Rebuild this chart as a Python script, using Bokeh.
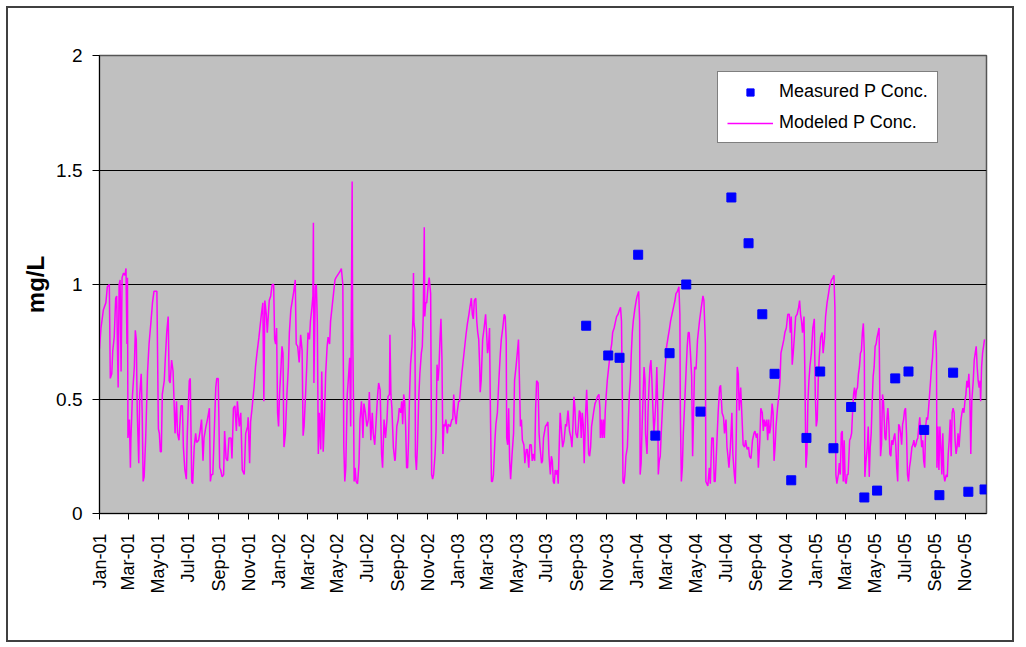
import pandas as pd
from math import pi
from bokeh.plotting import figure
from bokeh.models import (ColumnDataSource, Range1d, FixedTicker, DatetimeTickFormatter,
                          NumeralTickFormatter, Legend, LegendItem)
from bokeh.embed import file_html
from bokeh.resources import INLINE

# ---------------- data ----------------
series_start = "2001-01-01"
axis_end = "2005-12-14"

tick_labels = ["Jan-01", "Mar-01", "May-01", "Jul-01", "Sep-01", "Nov-01",
               "Jan-02", "Mar-02", "May-02", "Jul-02", "Sep-02", "Nov-02",
               "Jan-03", "Mar-03", "May-03", "Jul-03", "Sep-03", "Nov-03",
               "Jan-04", "Mar-04", "May-04", "Jul-04", "Sep-04", "Nov-04",
               "Jan-05", "Mar-05", "May-05", "Jul-05", "Sep-05", "Nov-05"]
y_ticks = [0, 0.5, 1, 1.5, 2]

measured_dates = ["2003-09-20", "2003-11-04", "2003-11-27", "2004-01-04", "2004-02-08",
                  "2004-03-08", "2004-04-11", "2004-05-10", "2004-07-12", "2004-08-16",
                  "2004-09-13", "2004-10-08", "2004-11-11", "2004-12-12", "2005-01-09",
                  "2005-02-05", "2005-03-13", "2005-04-09", "2005-05-05", "2005-06-11",
                  "2005-07-08", "2005-08-09", "2005-09-09", "2005-10-07", "2005-11-07",
                  "2005-12-10"]
measured_conc = [0.82, 0.69, 0.68, 1.13, 0.34,
                 0.70, 1.00, 0.445, 1.38, 1.18,
                 0.87, 0.61, 0.145, 0.33, 0.62,
                 0.285, 0.465, 0.07, 0.10, 0.59,
                 0.62, 0.365, 0.08, 0.615, 0.095,
                 0.105]

# modeled series: day number counted from series_start, and concentration (mg/L)
model_day = [
    0, 3, 8, 13, 16, 20, 22, 25, 27, 30,
    33, 35, 38, 40, 42, 44, 46, 49, 52, 54,
    56, 57, 58, 61, 63, 64, 67, 71, 73, 75,
    77, 80, 82, 85, 87, 89, 91, 94, 98, 101,
    105, 108, 111, 117, 120, 122, 124, 126, 128, 132,
    134, 137, 140, 142, 144, 147, 150, 154, 157, 159,
    162, 166, 169, 171, 174, 177, 179, 183, 185, 188,
    190, 193, 196, 198, 202, 205, 208, 211, 213, 217,
    220, 224, 226, 228, 231, 234, 237, 239, 242, 245,
    247, 250, 253, 255, 258, 261, 264, 268, 270, 273,
    276, 279, 281, 285, 288, 291, 295, 298, 302,
    303, 306, 308, 311, 315, 318, 321, 325, 328, 330,
    333, 335, 337, 340, 342, 344, 346, 349, 352, 355,
    357, 359, 361, 363, 365, 367, 370, 372, 374, 376,
    379, 382, 385, 387, 390, 393, 396, 399, 401, 404,
    407, 410, 413, 415, 417, 420, 423, 425, 428, 430,
    433, 435, 436, 437, 440, 442, 444, 446, 448, 451,
    453, 456, 459, 461, 464, 466, 469, 471, 474, 477,
    480, 482, 485, 488, 491, 493, 496, 498, 500, 502,
    505, 507, 510, 512, 513, 515, 516, 518, 519, 521,
    523, 526, 529, 531, 534, 537, 539, 542, 545, 548,
    550, 553, 556, 558, 561, 564, 567, 569, 572, 575,
    577, 580, 583, 586, 588, 591, 592, 594, 596, 599,
    602,
    603, 606, 609, 611, 614, 616, 618, 620, 622, 624,
    626, 628, 630, 632, 634, 637, 639, 640, 641, 643,
    644, 646, 648, 651, 653, 656, 658, 660, 662, 663,
    665, 667, 670, 672, 675, 676, 677, 679, 681, 684,
    686, 688, 690, 692, 694, 696, 698, 700, 702, 704,
    706, 709, 711, 715, 718, 720, 722, 724, 727, 729,
    732, 734, 736, 739, 742, 745, 747, 750, 753, 755,
    758, 760, 762, 764, 767, 769, 771, 773, 775, 776,
    778, 781, 784, 787, 789, 791, 793, 795, 797, 799,
    801, 803, 806, 808, 811, 814, 817, 819, 822, 825,
    827, 829, 830, 832, 834, 836, 838, 841, 844, 846,
    849, 852, 854, 856, 858, 860, 862, 865, 867, 870,
    872, 875, 877, 880, 882, 884, 887, 889, 891, 894,
    896, 898, 901, 903,
    905, 909, 912, 914, 916, 919, 921, 923, 925, 927,
    929, 931, 933, 935, 937, 939, 942, 944, 947, 950,
    952, 955, 958, 961, 963, 965, 967, 969, 971, 974,
    976, 978, 980, 982, 984, 986, 988, 991, 993, 995,
    997, 999, 1001, 1003, 1005, 1007, 1010, 1012, 1015, 1018,
    1020, 1021, 1023, 1025, 1027, 1029, 1031, 1033, 1035, 1038,
    1041, 1044, 1046, 1049, 1052, 1054, 1057, 1060, 1062, 1064,
    1066, 1067, 1069, 1071, 1073, 1076, 1078, 1080, 1082, 1084,
    1086, 1088, 1091, 1094, 1096, 1099, 1101, 1102, 1104, 1106,
    1108, 1110, 1112, 1113, 1116, 1118, 1120, 1122, 1124, 1126,
    1128, 1130, 1132, 1134, 1136, 1138, 1139, 1141, 1143, 1145,
    1148, 1151, 1154, 1156, 1159, 1162, 1164, 1167, 1170, 1173,
    1175, 1178, 1181, 1183, 1184, 1186, 1188, 1190, 1193, 1196,
    1198, 1200, 1202,
    1204, 1207, 1209, 1213, 1216, 1219, 1223, 1226, 1230, 1232,
    1235, 1236, 1240, 1243, 1245, 1248, 1251, 1253, 1255, 1258,
    1261, 1264, 1266, 1269, 1272, 1274, 1277, 1279, 1281, 1283,
    1286, 1289, 1291, 1294, 1296, 1298, 1300, 1302, 1304, 1307,
    1309, 1312, 1315, 1317, 1320, 1323, 1325, 1328, 1331, 1334,
    1336, 1339, 1341, 1343, 1346, 1348, 1351, 1353, 1355, 1357,
    1360, 1362, 1364, 1366, 1368, 1371, 1373, 1375, 1377, 1379,
    1382, 1385, 1387, 1389, 1392, 1395, 1397, 1400, 1403, 1406,
    1408, 1410, 1412, 1414, 1416, 1419, 1422, 1425, 1427, 1429,
    1431, 1433, 1436, 1438, 1440, 1442, 1444, 1446, 1448, 1451,
    1454, 1457, 1459, 1461, 1463, 1465, 1467, 1470, 1473, 1475,
    1478, 1480, 1483, 1486, 1488, 1492, 1495, 1497, 1499, 1501,
    1503, 1506, 1508,
    1510, 1512, 1514, 1516, 1518, 1520, 1522, 1524, 1526, 1529,
    1531, 1533, 1535, 1537, 1539, 1541, 1543, 1545, 1547, 1549,
    1551, 1553, 1555, 1557, 1559, 1560, 1562, 1565, 1567, 1569,
    1571, 1573, 1575, 1577, 1579, 1581, 1583, 1585, 1587, 1589,
    1591, 1592, 1594, 1596, 1598, 1601, 1603, 1605, 1607, 1609,
    1611, 1613, 1615, 1617, 1619, 1621, 1623, 1625, 1627, 1629,
    1631, 1633, 1635, 1637, 1639, 1641, 1643, 1645, 1647, 1649,
    1651, 1653, 1656, 1658, 1660, 1662, 1664, 1666, 1668, 1670,
    1672, 1674, 1676, 1678, 1680, 1682, 1684, 1686, 1688, 1690,
    1692, 1694, 1696, 1698, 1700, 1702, 1704, 1706, 1707, 1709,
    1711, 1713, 1715, 1717, 1719, 1721, 1723, 1726, 1728, 1730,
    1732, 1734, 1736, 1738, 1740, 1742, 1744, 1746, 1748, 1750,
    1752, 1754, 1756, 1758, 1760, 1762, 1764, 1766, 1768, 1770,
    1772, 1774, 1776, 1778, 1781, 1783, 1785, 1787, 1789, 1791,
    1793, 1795, 1796, 1798, 1800, 1802, 1804,
]
model_conc = [
    0.72, 0.81, 0.89, 0.92, 0.99, 1.00, 0.59, 0.61, 0.71, 0.77,
    0.94, 0.95, 0.55, 1.00, 1.02, 0.62, 1.03, 1.05, 1.04, 1.07,
    0.74, 1.03, 0.33, 0.41, 0.20, 0.32, 0.51, 0.64, 0.80, 0.76,
    0.44, 0.22, 0.52, 0.61, 0.44, 0.14, 0.16, 0.32, 0.62, 0.74,
    0.84, 0.92, 0.97, 0.97, 0.37, 0.35, 0.27, 0.27, 0.52, 0.58,
    0.67, 0.79, 0.86, 0.58, 0.57, 0.67, 0.62, 0.35, 0.49, 0.35,
    0.32, 0.47, 0.47, 0.29, 0.19, 0.15, 0.35, 0.58, 0.59, 0.14,
    0.13, 0.29, 0.35, 0.31, 0.32, 0.36, 0.41, 0.23, 0.33, 0.38,
    0.41, 0.46, 0.14, 0.17, 0.17, 0.36, 0.55, 0.59, 0.59, 0.20,
    0.19, 0.16, 0.17, 0.36, 0.24, 0.23, 0.33, 0.33, 0.24, 0.46,
    0.47, 0.36, 0.49, 0.38, 0.44, 0.19, 0.17, 0.35, 0.38,
    0.42, 0.22, 0.40, 0.46, 0.55, 0.64, 0.70, 0.77, 0.83, 0.87,
    0.92, 0.49, 0.93, 0.87, 0.79, 0.86, 0.93, 0.95, 1.00, 1.00,
    0.76, 0.74, 0.81, 0.44, 0.38, 0.52, 0.64, 0.73, 0.70, 0.29,
    0.35, 0.52, 0.64, 0.79, 0.89, 0.93, 0.97, 1.02, 0.74, 0.73,
    0.66, 0.78, 0.71, 0.34, 0.38, 0.52, 0.67, 0.79, 0.76, 0.84,
    0.90, 0.95, 1.27, 0.57, 0.99, 1.00, 0.84, 0.26, 0.44, 0.28,
    0.62, 0.27, 0.45, 0.61, 0.73, 0.77, 0.74, 0.84, 0.90, 0.96,
    1.02, 1.03, 1.04, 1.05, 1.06, 1.07, 1.00, 0.29, 0.14, 0.20,
    0.52, 0.58, 0.68, 0.38, 0.73, 1.45, 0.80, 0.44, 0.14, 0.20,
    0.14, 0.13, 0.22, 0.41, 0.49, 0.33, 0.48, 0.44, 0.38, 0.41,
    0.53, 0.32, 0.44, 0.35, 0.30, 0.41, 0.52, 0.57, 0.54, 0.26,
    0.20, 0.41, 0.33, 0.41, 0.51, 0.52, 0.78, 0.52, 0.46, 0.29,
    0.23,
    0.24, 0.38, 0.41, 0.46, 0.44, 0.49, 0.39, 0.52, 0.49, 0.38,
    0.20, 0.20, 0.32, 0.52, 0.65, 0.73, 0.87, 1.05, 0.83, 0.80,
    0.25, 0.19, 0.29, 0.52, 0.61, 0.70, 0.73, 0.87, 1.25, 0.86,
    0.92, 0.92, 1.00, 1.03, 0.96, 0.58, 0.17, 0.15, 0.17, 0.26,
    0.36, 0.65, 0.58, 0.64, 0.76, 0.85, 0.68, 0.26, 0.39, 0.38,
    0.41, 0.35, 0.39, 0.38, 0.41, 0.41, 0.52, 0.44, 0.39, 0.44,
    0.49, 0.49, 0.55, 0.62, 0.68, 0.74, 0.78, 0.83, 0.87, 0.90,
    0.94, 0.87, 0.85, 0.93, 0.94, 0.84, 0.79, 0.76, 0.64, 0.53,
    0.58, 0.76, 0.81, 0.87, 0.79, 0.70, 0.73, 0.81, 0.41, 0.14,
    0.14, 0.17, 0.32, 0.39, 0.44, 0.58, 0.70, 0.76, 0.81, 0.87,
    0.86, 0.76, 0.33, 0.30, 0.46, 0.23, 0.15, 0.26, 0.35, 0.58,
    0.64, 0.71, 0.76, 0.58, 0.38, 0.41, 0.32, 0.30, 0.22, 0.28,
    0.28, 0.20, 0.30, 0.30, 0.23, 0.26, 0.23, 0.46, 0.58, 0.57,
    0.35, 0.29, 0.22, 0.23,
    0.33, 0.38, 0.39, 0.40, 0.26, 0.17, 0.25, 0.23, 0.14, 0.13,
    0.19, 0.17, 0.19, 0.13, 0.29, 0.44, 0.35, 0.29, 0.32, 0.39,
    0.38, 0.45, 0.36, 0.33, 0.29, 0.38, 0.51, 0.46, 0.35, 0.33,
    0.38, 0.45, 0.44, 0.33, 0.44, 0.39, 0.22, 0.44, 0.54, 0.41,
    0.26, 0.25, 0.29, 0.38, 0.41, 0.44, 0.48, 0.49, 0.51, 0.52,
    0.46, 0.33, 0.41, 0.33, 0.41, 0.33, 0.45, 0.52, 0.58, 0.64,
    0.70, 0.74, 0.79, 0.81, 0.84, 0.86, 0.87, 0.89, 0.90, 0.84,
    0.44, 0.14, 0.13, 0.17, 0.25, 0.29, 0.41, 0.52, 0.58, 0.70,
    0.79, 0.84, 0.89, 0.93, 0.95, 0.97, 0.84, 0.17, 0.22, 0.38,
    0.51, 0.64, 0.58, 0.35, 0.26, 0.44, 0.55, 0.64, 0.67, 0.58,
    0.46, 0.35, 0.41, 0.49, 0.64, 0.45, 0.17, 0.23, 0.25, 0.35,
    0.48, 0.58, 0.67, 0.73, 0.77, 0.81, 0.84, 0.87, 0.90, 0.93,
    0.96, 0.97, 0.99, 0.87, 0.44, 0.14, 0.20, 0.35, 0.49, 0.64,
    0.73, 0.79, 0.79,
    0.72, 0.60, 0.25, 0.64, 0.63, 0.76, 0.84, 0.89, 0.95, 0.93,
    0.74, 0.14, 0.12, 0.20, 0.13, 0.33, 0.33, 0.14, 0.14, 0.29,
    0.44, 0.55, 0.56, 0.44, 0.42, 0.35, 0.41, 0.29, 0.25, 0.20,
    0.29, 0.44, 0.26, 0.17, 0.13, 0.35, 0.64, 0.61, 0.45, 0.55,
    0.45, 0.30, 0.29, 0.32, 0.28, 0.29, 0.25, 0.24, 0.32, 0.35,
    0.36, 0.33, 0.35, 0.20, 0.32, 0.46, 0.44, 0.36, 0.41, 0.38,
    0.41, 0.32, 0.41, 0.35, 0.38, 0.48, 0.44, 0.23, 0.29, 0.38,
    0.46, 0.52, 0.58, 0.70, 0.73, 0.76, 0.79, 0.81, 0.87, 0.87,
    0.79, 0.86, 0.65, 0.70, 0.76, 0.86, 0.87, 0.90, 0.93, 0.87,
    0.84, 0.79, 0.86, 0.58, 0.20, 0.26, 0.49, 0.58, 0.64, 0.70,
    0.81, 0.85, 0.52, 0.38, 0.41, 0.58, 0.68, 0.77, 0.79, 0.70,
    0.77, 0.86, 0.92, 0.96, 0.99, 1.02, 1.03, 1.04, 0.90, 0.17,
    0.13, 0.17, 0.22,
    0.17, 0.35, 0.36, 0.14, 0.32, 0.14, 0.13, 0.17, 0.17, 0.32,
    0.33, 0.35, 0.44, 0.52, 0.55, 0.50, 0.54, 0.55, 0.61, 0.64,
    0.70, 0.71, 0.79, 0.83, 0.70, 0.16, 0.22, 0.29, 0.38, 0.16,
    0.29, 0.35, 0.49, 0.60, 0.64, 0.73, 0.74, 0.77, 0.79, 0.81,
    0.44, 0.25, 0.30, 0.52, 0.49, 0.33, 0.32, 0.41, 0.46, 0.39,
    0.26, 0.25, 0.32, 0.30, 0.33, 0.35, 0.30, 0.20, 0.14, 0.39,
    0.38, 0.35, 0.30, 0.39, 0.41, 0.45, 0.46, 0.35, 0.17, 0.14,
    0.20, 0.23, 0.29, 0.30, 0.32, 0.29, 0.30, 0.32, 0.33, 0.38,
    0.42, 0.35, 0.29, 0.32, 0.23, 0.20, 0.38, 0.42, 0.41, 0.46,
    0.52, 0.58, 0.64, 0.68, 0.76, 0.79, 0.80, 0.70, 0.20, 0.38,
    0.19, 0.38, 0.29, 0.17, 0.35, 0.17, 0.14, 0.17, 0.16, 0.26,
    0.32, 0.41, 0.25, 0.44, 0.46, 0.44, 0.32, 0.26, 0.29, 0.35,
    0.29, 0.35, 0.41, 0.44, 0.46, 0.44, 0.49, 0.52, 0.58, 0.55,
    0.61, 0.52, 0.26, 0.49, 0.58, 0.67, 0.70, 0.73, 0.64, 0.58,
    0.55, 0.58, 0.49, 0.64, 0.70, 0.73, 0.76,
]

# ---------------- build ----------------
n = min(len(model_day), len(model_conc))
t0 = pd.Timestamp(series_start)
model_src = ColumnDataSource(dict(
    date=t0 + pd.to_timedelta(model_day[:n], unit="D"),
    conc=model_conc[:n]))
meas_src = ColumnDataSource(dict(date=pd.to_datetime(measured_dates), conc=measured_conc))

FONT = "Liberation Sans"

p = figure(width=1008, height=636, x_axis_type="datetime",
           x_range=Range1d(t0, pd.Timestamp(axis_end)), y_range=Range1d(0, 2),
           output_backend="svg", toolbar_location=None,
           min_border_left=91, min_border_right=30, min_border_top=47, min_border_bottom=131,
           background_fill_color="#C0C0C0", border_fill_color="white")
p.styles = {"border": "2px solid #404040", "margin-left": "6px", "margin-top": "6px"}

r_line = p.line("date", "conc", source=model_src, line_color="#FF00FF", line_width=1.5)
r_meas = p.scatter("date", "conc", source=meas_src, marker="square", size=9,
                   fill_color="#0000FF", line_color="#0000FF")

p.outline_line_color = "#555555"
p.outline_line_width = 1.5
p.xgrid.visible = False
p.ygrid.grid_line_color = "#000000"
p.ygrid.grid_line_width = 1

tick_ms = [int(pd.to_datetime(t, format="%b-%y").value // 10**6) for t in tick_labels]
xa = p.xaxis[0]
xa.ticker = FixedTicker(ticks=tick_ms)
xa.formatter = DatetimeTickFormatter(days="%b-%y", months="%b-%y", years="%b-%y")
xa.major_label_orientation = pi / 2
xa.major_label_text_font = FONT
xa.major_label_text_font_size = "18px"
xa.major_label_text_color = "black"
xa.major_label_standoff = 14
xa.major_tick_out = 6
xa.major_tick_in = 0
xa.minor_tick_line_color = None
xa.axis_line_color = "black"
xa.major_tick_line_color = "black"

ya = p.yaxis[0]
ya.ticker = FixedTicker(ticks=y_ticks)
ya.formatter = NumeralTickFormatter(format="0.[0]")
ya.major_label_text_font = FONT
ya.major_label_text_font_size = "19px"
ya.major_label_text_color = "black"
ya.major_label_standoff = 10
ya.major_tick_out = 7
ya.major_tick_in = 0
ya.minor_tick_line_color = None
ya.axis_line_color = "black"
ya.major_tick_line_color = "black"
ya.axis_label = "mg/L"
ya.axis_label_text_font = FONT
ya.axis_label_text_font_size = "24px"
ya.axis_label_text_font_style = "bold"
ya.axis_label_text_color = "black"
ya.axis_label_standoff = 4

legend = Legend(items=[LegendItem(label="Measured P Conc.", renderers=[r_meas]),
                       LegendItem(label="Modeled P Conc.", renderers=[r_line])],
                location=(618, 370))
legend.border_line_color = "black"
legend.border_line_width = 1
legend.background_fill_color = "white"
legend.background_fill_alpha = 1
legend.label_text_font = FONT
legend.label_text_font_size = "18px"
legend.label_text_color = "black"
legend.glyph_width = 46
legend.glyph_height = 18
legend.label_height = 18
legend.label_standoff = 6
legend.spacing = 10
legend.padding = 9
legend.margin = 0
p.add_layout(legend)

open("out.html", "w").write(file_html(p, INLINE))
